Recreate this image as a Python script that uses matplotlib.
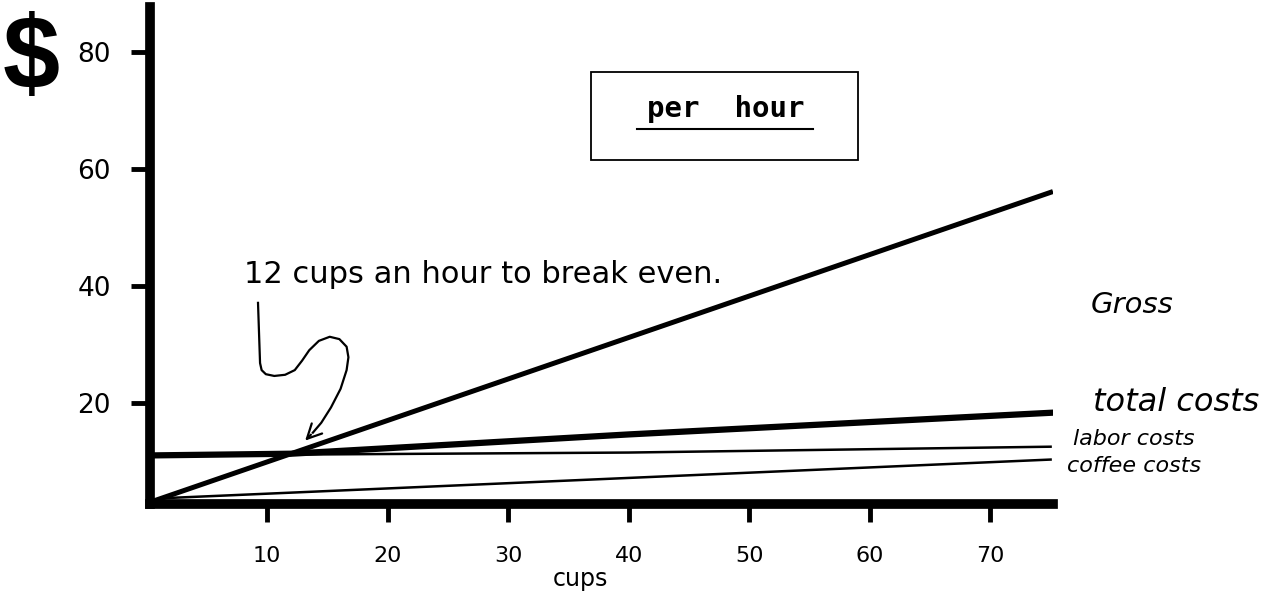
import matplotlib
matplotlib.use("Agg")
import matplotlib.pyplot as plt
from matplotlib.patches import Rectangle
from matplotlib.lines import Line2D

# cost / revenue lines, dollars per hour against cups sold per hour
gross_cups = [0, 75]
gross = [2.8, 56.0]

total_cups = [0, 12, 40, 75]
total_costs = [11.0, 11.3, 14.6, 18.3]

labor_cups = [0, 40, 75]
labor_costs = [11.0, 11.5, 12.5]

coffee_cups = [1.5, 36, 75]
coffee_costs = [3.7, 6.8, 10.3]

x_ticks = [10, 20, 30, 40, 50, 60, 70]
y_ticks = [20, 40, 60, 80]

break_even = 12

# hand-drawn squiggle leading from the note down to the crossing point
squiggle_x = [9.25, 9.35, 9.42, 9.55, 9.9, 10.6, 11.5, 12.3, 12.9, 13.5,
              14.3, 15.2, 16.0, 16.6, 16.75, 16.6, 16.1, 15.3, 14.5, 13.8]
squiggle_y = [37.1, 31.0, 26.8, 25.6, 24.9, 24.6, 24.8, 25.6, 27.2, 29.0,
              30.6, 31.3, 30.9, 29.6, 27.8, 25.6, 22.4, 19.2, 16.6, 14.9]

W, H = 1277, 593
fig = plt.figure(figsize=(W / 100, H / 100), dpi=100)
ax = fig.add_axes([150 / W, 89 / H, 903 / W, 497 / H])

ax.plot(gross_cups, gross, color="black", lw=3.6)
ax.plot(total_cups, total_costs, color="black", lw=4.5)
ax.plot(labor_cups, labor_costs, color="black", lw=1.8)
ax.plot(coffee_cups, coffee_costs, color="black", lw=1.8)

ax.set_xlim(0.29, 75.2)
ax.set_ylim(2.7, 87.7)

for side in ("top", "right"):
    ax.spines[side].set_visible(False)
for side in ("left", "bottom"):
    ax.spines[side].set_linewidth(7)

ax.set_xticks(x_ticks)
ax.set_xticklabels([str(t) for t in x_ticks])
ax.set_yticks(y_ticks)
ax.set_yticklabels([str(t) for t in y_ticks])
ax.tick_params(axis="x", direction="out", length=13, width=3.5, pad=17,
               labelsize=16)
ax.tick_params(axis="y", direction="out", length=14, width=3.5, pad=14,
               labelsize=19)

ax.set_xlabel("cups", fontsize=17, va="baseline")
ax.xaxis.set_label_coords(0.477, -0.165)

# line labels to the right of the plot
ax.text(78.3, 36.75, "Gross", fontsize=21, style="italic", va="center",
        clip_on=False)
ax.text(78.5, 20.0, "total costs", fontsize=23, style="italic", va="center",
        clip_on=False)
ax.text(76.9, 13.8, "labor costs", fontsize=16, style="italic", va="center",
        clip_on=False)
ax.text(76.4, 9.2, "coffee costs", fontsize=16, style="italic", va="center",
        clip_on=False)

# break-even note
ax.text(8.1, 40.5, f"{break_even} cups an hour to break even.", fontsize=22,
        va="baseline")
ax.plot(squiggle_x, squiggle_y, color="black", lw=1.6,
        solid_joinstyle="round")
ax.annotate("", xy=(break_even + 1.0, 13.2),
            xytext=(squiggle_x[-1], squiggle_y[-1]),
            arrowprops=dict(arrowstyle="->", lw=1.6, color="black",
                            mutation_scale=26))

# big dollar sign on the y axis
fig.text(31 / W, 1 - 88 / H, "$", fontsize=74, fontweight="bold",
         family=["Liberation Sans", "DejaVu Sans"],
         ha="center", va="baseline")

# "per hour" box
fig.patches.append(Rectangle((591 / W, 1 - 160 / H), 267 / W, 88 / H,
                             transform=fig.transFigure, fill=False,
                             lw=1.3, color="black"))
fig.text(726 / W, 1 - 117 / H, "per  hour", fontsize=21, fontweight="bold",
         family="DejaVu Sans Mono", ha="center", va="baseline")
fig.lines.append(Line2D([637 / W, 813 / W], [1 - 129 / H, 1 - 129 / H],
                        transform=fig.transFigure, lw=1.5, color="black"))

fig.savefig("out.png", dpi=100, facecolor="white")
